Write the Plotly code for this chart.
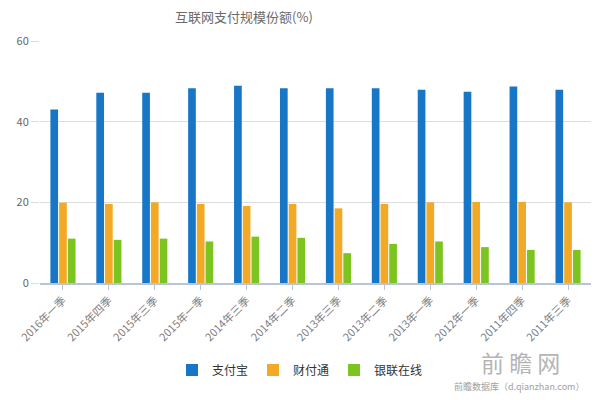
import plotly.graph_objects as go

categories = ["2016年一季", "2015年四季", "2015年三季", "2015年一季", "2014年三季", "2014年二季",
              "2013年三季", "2013年二季", "2013年一季", "2012年一季", "2011年四季", "2011年三季"]
alipay = [43.0, 47.2, 47.2, 48.3, 48.9, 48.3, 48.3, 48.3, 47.9, 47.4, 48.7, 47.9]
tenpay = [19.9, 19.6, 20.0, 19.6, 19.1, 19.6, 18.5, 19.6, 20.0, 20.1, 20.1, 20.0]
unionpay = [11.0, 10.7, 11.0, 10.3, 11.5, 11.2, 7.4, 9.7, 10.3, 8.9, 8.2, 8.2]
series_names = ["支付宝", "财付通", "银联在线"]
colors = ["#1776C6", "#F2A925", "#7CC521"]
y_ticks = [0, 20, 40, 60]

font_family = "Noto Sans CJK SC, Noto Sans, sans-serif"

fig = go.Figure()
for name, vals, col in zip(series_names, [alipay, tenpay, unionpay], colors):
    fig.add_trace(go.Bar(name=name, x=categories, y=vals, marker=dict(color=col, line=dict(width=0))))

fig.update_layout(
    width=600, height=400,
    paper_bgcolor="white", plot_bgcolor="white",
    margin=dict(l=40, r=9, t=41, b=117, autoexpand=False),
    barmode="group", bargap=0.43, bargroupgap=0.12,
    font=dict(family=font_family, color="#666666", size=11),
    title=dict(text="互联网支付规模份额(%)", x=244/600, xanchor="center", y=1-17/400, yanchor="middle",
               font=dict(size=13, color="#6A6A6A", family=font_family)),
    legend=dict(orientation="h", x=(300-40)/551, xanchor="center", y=-0.36, yanchor="middle",
                font=dict(size=12, color="#333333"), itemwidth=30, traceorder="normal"),
    showlegend=True,
)
fig.update_yaxes(range=[0, 60], tickvals=y_ticks, showgrid=True, gridcolor="#DDDDDD", gridwidth=1,
                 zeroline=False, showline=False, ticks="outside", ticklen=8, tickcolor="#DDDDDD",
                 tickfont=dict(size=11, color="#666666"), fixedrange=True)
fig.update_xaxes(tickangle=-45, showline=True, linecolor="#B8C4D8", linewidth=1.5,
                 ticks="outside", ticklen=5, tickcolor="#B8C4D8",
                 tickfont=dict(size=11, color="#808080"), fixedrange=True)

fig.add_annotation(text="前 瞻 网", xref="paper", yref="paper", x=(520-40)/551, y=(283-362)/242,
                   xanchor="center", yanchor="middle",
                   showarrow=False, font=dict(size=23, color="#B5B5B5", family=font_family))
fig.add_annotation(text="前瞻数据库（d.qianzhan.com）", xref="paper", yref="paper", x=(519-40)/551, y=(283-386)/242,
                   xanchor="center", yanchor="middle",
                   showarrow=False, font=dict(size=9, color="#A0A0A0", family=font_family))

fig.write_html("out.html", config={"displayModeBar": False},
               post_script="document.body.style.margin='0px';")
